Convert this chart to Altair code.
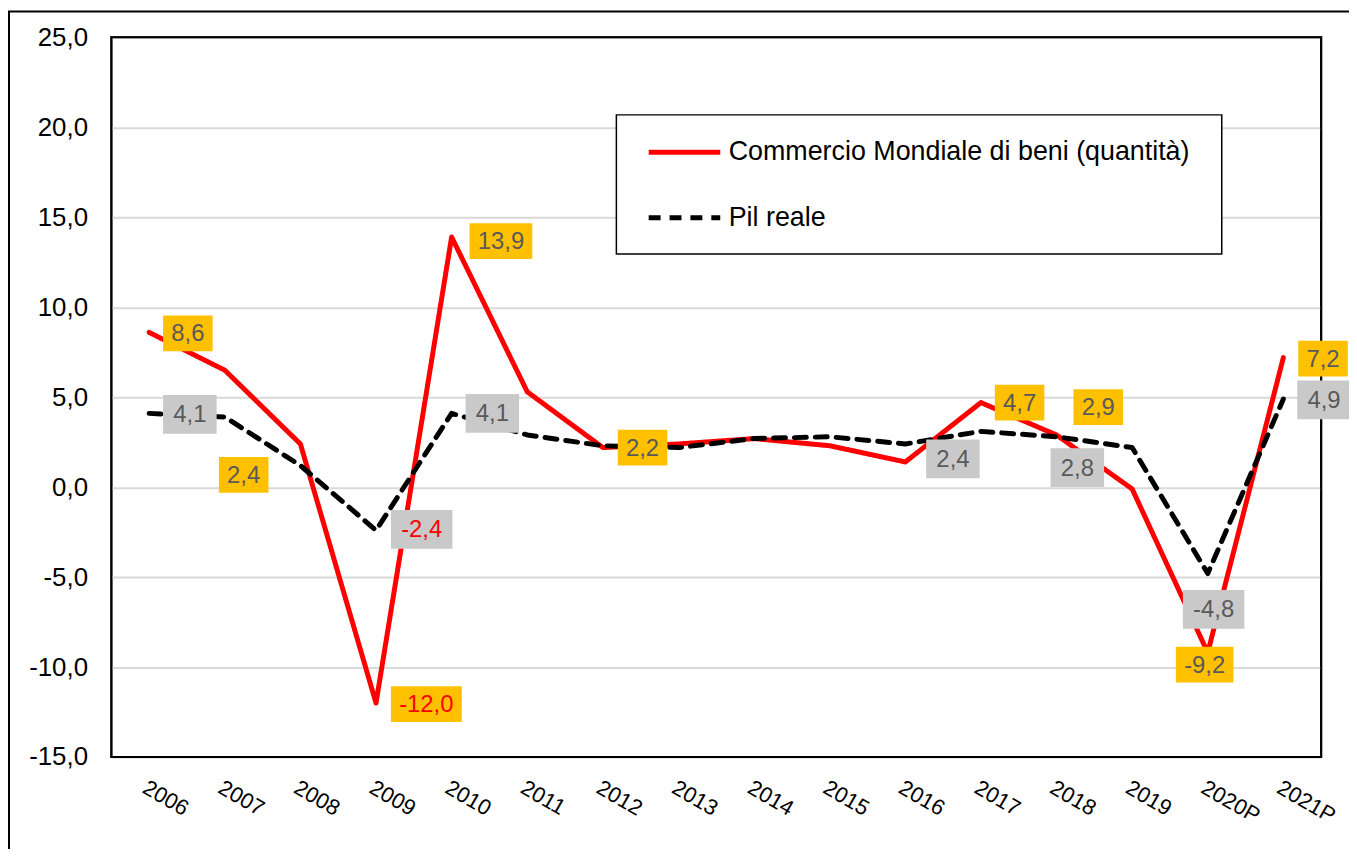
import json
import altair as alt
import pandas as pd

# ---------------- data ----------------
years = ["2006", "2007", "2008", "2009", "2010", "2011", "2012", "2013",
         "2014", "2015", "2016", "2017", "2018", "2019", "2020P", "2021P"]
commercio = [8.6, 6.5, 2.4, -12.0, 13.9, 5.3, 2.2, 2.4, 2.7, 2.3, 1.4, 4.7, 2.9, -0.1, -9.2, 7.2]
pil = [4.1, 3.9, 1.2, -2.4, 4.1, 2.9, 2.3, 2.2, 2.7, 2.8, 2.4, 3.1, 2.8, 2.2, -4.8, 4.9]

S_COM = "Commercio Mondiale di beni (quantità)"
S_PIL = "Pil reale"

# labelled points (series, year)
label_points = [
    (S_COM, "2006"), (S_COM, "2008"), (S_COM, "2009"), (S_COM, "2010"), (S_COM, "2012"),
    (S_COM, "2017"), (S_COM, "2018"), (S_COM, "2020P"), (S_COM, "2021P"),
    (S_PIL, "2006"), (S_PIL, "2009"), (S_PIL, "2010"), (S_PIL, "2016"), (S_PIL, "2018"),
    (S_PIL, "2020P"), (S_PIL, "2021P"),
]

# ---------------- layout (pixels) ----------------
W, H = 1217, 724
YMIN, YMAX = -15, 25
PX_X = W / len(years)
PX_Y = H / (YMAX - YMIN)
FONT = "Liberation Sans"

# label box placement: (left edge offset from point, centre offset below point)
label_layout = {
    (S_COM, "2006"): (14, 1), (S_COM, "2008"): (-82, 31), (S_COM, "2009"): (15, 1),
    (S_COM, "2010"): (18, 4), (S_COM, "2012"): (15, 0), (S_COM, "2017"): (14, 0),
    (S_COM, "2018"): (17, -28), (S_COM, "2020P"): (-32, 12), (S_COM, "2021P"): (15, 1),
    (S_PIL, "2006"): (14, 1), (S_PIL, "2009"): (15, -1), (S_PIL, "2010"): (14, 0),
    (S_PIL, "2016"): (21, 15), (S_PIL, "2018"): (-6, 31), (S_PIL, "2020P"): (-25, 36),
    (S_PIL, "2021P"): (14, 1),
}
red_text = {(S_COM, "2009"), (S_PIL, "2009")}


def fmt(v):
    return f"{v:.1f}".replace(".", ",")


def text_width(s, size=24):
    w = 0.0
    for ch in s:
        if ch.isdigit():
            w += 0.556
        elif ch == ",":
            w += 0.278
        elif ch == "-":
            w += 0.333
        else:
            w += 0.5
    return w * size


# ---------------- tables ----------------
rows = []
for i, y in enumerate(years):
    rows.append({"i": i, "year": y, "series": S_COM, "value": commercio[i]})
    rows.append({"i": i, "year": y, "series": S_PIL, "value": pil[i]})
lines_df = pd.DataFrame(rows)

lab_rows = []
for series, year in label_points:
    i = years.index(year)
    v = (commercio if series == S_COM else pil)[i]
    txt = fmt(v)
    dx, dy = label_layout[(series, year)]
    if series == S_COM:
        bw, bh, fill = text_width(txt) + 16.5, 36, "#FFC000"
    else:
        bw, bh, fill = text_width(txt) + 20.5, 39, "#C9C9C9"
    x0 = i + dx / PX_X
    x1 = x0 + bw / PX_X
    yc = v - dy / PX_Y
    lab_rows.append({
        "x0": x0, "x1": x1, "xc": (x0 + x1) / 2,
        "y0": yc + (bh / 2) / PX_Y, "y1": yc - (bh / 2) / PX_Y, "yc": yc,
        "text": txt, "fill": fill,
        "tcolor": "#FF0000" if (series, year) in red_text else "#595959",
    })
labels_df = pd.DataFrame(lab_rows)

# ---------------- scales / axes ----------------
x_scale = alt.Scale(domain=[-0.5, len(years) - 0.5], nice=False, zero=False)
y_scale = alt.Scale(domain=[YMIN, YMAX], nice=False)

x_axis = alt.Axis(
    values=list(range(len(years))),
    labelExpr=json.dumps(years) + "[datum.value]",
    grid=False, ticks=False, domain=False,
    labelAngle=30, labelAlign="left", labelBaseline="top",
    labelPadding=20, labelFontSize=22, labelFont=FONT, labelColor="#000000",
    title=None,
)
y_axis = alt.Axis(
    values=list(range(YMIN, YMAX + 1, 5)),
    labelExpr="(datum.value < 0 ? '-' : '') + replace(format(abs(datum.value), '.1f'), '.', ',')",
    grid=True, gridColor="#D9D9D9", gridWidth=2,
    ticks=False, domain=False,
    labelPadding=24, labelFontSize=26, labelFont=FONT, labelColor="#000000",
    title=None,
)

legend = alt.Legend(
    orient="none", legendX=508, legendY=77, title=None,
    symbolType="stroke", symbolSize=5184, symbolStrokeWidth=5,
    labelFontSize=27, labelFont=FONT, labelColor="#000000",
    rowPadding=14, padding=0, symbolOffset=30, labelOffset=6,
    labelLimit=800,
)

color = alt.Color("series:N", scale=alt.Scale(domain=[S_COM, S_PIL], range=["#FF0000", "#000000"]),
                  legend=legend)
dash = alt.StrokeDash("series:N", scale=alt.Scale(domain=[S_COM, S_PIL], range=[[1, 0], [12, 9]]),
                      legend=legend)

# ---------------- layers ----------------
one = pd.DataFrame({"k": [0]})

frame = alt.Chart(one).mark_rect(fill=None, stroke="#000000", strokeWidth=2).encode(
    x=alt.value(-103), x2=alt.value(1500), y=alt.value(-26), y2=alt.value(1200)
)

plot_border = alt.Chart(one).mark_rect(fill=None, stroke="#000000", strokeWidth=2).encode(
    x=alt.value(0), x2=alt.value(W), y=alt.value(0), y2=alt.value(H)
)

legend_box = alt.Chart(one).mark_rect(fill="#FFFFFF", stroke="#000000", strokeWidth=1.5).encode(
    x=alt.value(508), x2=alt.value(1117), y=alt.value(78), y2=alt.value(218)
)

lines = alt.Chart(lines_df).mark_line(strokeWidth=5, strokeCap="round", strokeJoin="round").encode(
    x=alt.X("i:Q", scale=x_scale, axis=x_axis),
    y=alt.Y("value:Q", scale=y_scale, axis=y_axis),
    color=color,
    strokeDash=dash,
    order="i:Q",
)

boxes = alt.Chart(labels_df).mark_rect().encode(
    x=alt.X("x0:Q", scale=x_scale),
    x2="x1:Q",
    y=alt.Y("y0:Q", scale=y_scale),
    y2="y1:Q",
    fill=alt.Fill("fill:N", scale=None),
)

texts = alt.Chart(labels_df).mark_text(fontSize=24, font=FONT, align="center", baseline="middle", dy=1).encode(
    x=alt.X("xc:Q", scale=x_scale),
    y=alt.Y("yc:Q", scale=y_scale),
    text="text:N",
    color=alt.Color("tcolor:N", scale=None),
)

chart = alt.layer(frame, plot_border, legend_box, lines, boxes, texts).properties(
    width=W, height=H,
    autosize=alt.AutoSizeParams(type="none"),
    padding={"left": 104, "top": 27, "right": 28, "bottom": 90},
).configure(
    background="#FFFFFF",
    view=alt.ViewConfig(stroke="#000000", strokeWidth=2),
)

chart.save("out.html", embed_options={"renderer": "svg", "actions": False})
